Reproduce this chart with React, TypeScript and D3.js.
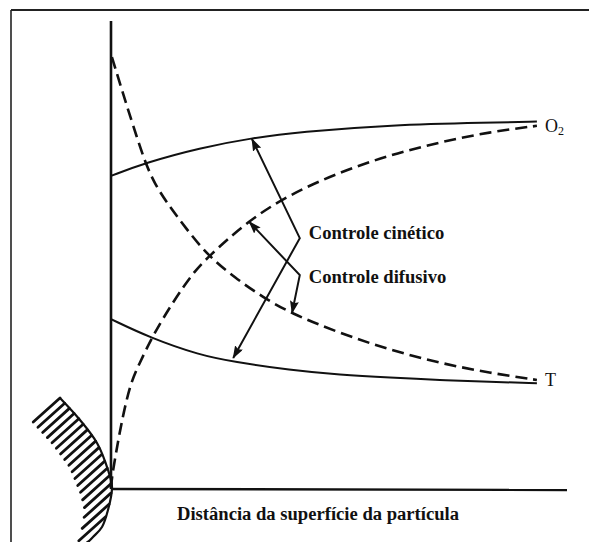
import React from 'react';
import * as d3 from 'd3';

// schematic profiles near a burning particle, in arbitrary units (0-100)
const O2_KINETIC: [number, number][] = [
  [0, 66.9], [7.5, 69.7], [19.5, 72.9], [30.9, 75.0], [41.4, 76.3],
  [61.2, 77.8], [83.1, 78.3], [93.4, 78.5],
];
const O2_DIFFUSIVE: [number, number][] = [
  [0, 0.2], [0.2, 2.6], [1.1, 7.7], [2.2, 13.7], [4.2, 22.6], [6.4, 27.1],
  [9.0, 32.5], [13.6, 40.0], [18.0, 46.2], [21.1, 49.4], [30.0, 57.3],
  [39.3, 63.0], [50.2, 67.7], [61.2, 71.4], [72.1, 74.1], [83.1, 76.3],
  [93.4, 77.6],
];
const T_KINETIC: [number, number][] = [
  [0, 36.3], [8.6, 32.3], [19.5, 28.6], [26.8, 27.2], [39.3, 25.4],
  [50.2, 24.4], [61.2, 23.8], [72.1, 23.3], [83.1, 22.9], [93.4, 22.6],
];
const T_DIFFUSIVE: [number, number][] = [
  [0.2, 92.3], [2.6, 84.6], [4.8, 77.8], [7.5, 69.7], [9.6, 65.2],
  [12.3, 61.1], [16.2, 56.0], [21.1, 50.0], [27.2, 45.1], [33.3, 41.0],
  [39.3, 37.6], [50.2, 33.3], [61.2, 29.7], [72.1, 26.9], [83.1, 24.8],
  [93.4, 23.3],
];

// bracket arrows: [tip, vertex, tip]
const KINETIC_ARROW: [number, number][] = [[30.9, 74.8], [41.4, 53.6], [26.8, 28.0]];
const DIFFUSIVE_ARROW: [number, number][] = [[30.3, 57.1], [41.4, 45.7], [39.7, 37.6]];

const LABEL_KINETIC = 'Controle cinético';
const LABEL_DIFFUSIVE = 'Controle difusivo';
const X_TITLE = 'Distância da superfície da partícula';

// particle outline (pixel sketch, decoration)
const PARTICLE: [number, number][] = [
  [60, 398], [80, 420], [97, 443], [108, 470], [112, 487],
  [108, 510], [102, 527], [93, 537], [84, 546],
];

const W = 589;
const H = 542;
const INK = '#111';
const FONT = '"Liberation Serif", "Times New Roman", serif';

const x = d3.scaleLinear().domain([0, 100]).range([111, 567]);
const y = d3.scaleLinear().domain([0, 100]).range([489, 21]);

const line = d3.line<[number, number]>()
  .x((d) => x(d[0]))
  .y((d) => y(d[1]))
  .curve(d3.curveBasis);

const arrowLine = d3.line<[number, number]>()
  .x((d) => x(d[0]))
  .y((d) => y(d[1]));

const particlePath = d3.line<[number, number]>().curve(d3.curveCatmullRom.alpha(0.5))(PARTICLE) || '';

// hatch strokes: parallel lines (y = c - k x) starting on the outline, going down-left
const hatches = (() => {
  const k = 0.9;
  const len = 36;
  const ux = -1 / Math.sqrt(1 + k * k);
  const uy = k / Math.sqrt(1 + k * k);
  const out: { x1: number; y1: number; x2: number; y2: number }[] = [];
  const c0 = PARTICLE[0][1] + k * PARTICLE[0][0];
  for (let c = c0; c < 640; c += 9.4) {
    for (let i = 0; i < PARTICLE.length - 1; i++) {
      const [ax, ay] = PARTICLE[i];
      const [bx, by] = PARTICLE[i + 1];
      const fa = ay + k * ax - c;
      const fb = by + k * bx - c;
      if ((fa <= 0 && fb >= 0) || (fa >= 0 && fb <= 0)) {
        const t = fa === fb ? 0 : fa / (fa - fb);
        const px = ax + t * (bx - ax);
        const py = ay + t * (by - ay);
        out.push({ x1: px, y1: py, x2: px + ux * len, y2: py + uy * len });
        break;
      }
    }
  }
  return out;
})();

export default function App() {
  const kMid = KINETIC_ARROW[1];
  const dMid = DIFFUSIVE_ARROW[1];
  const o2End = O2_KINETIC[O2_KINETIC.length - 1];
  const tEnd = T_KINETIC[T_KINETIC.length - 1];

  return (
    <svg
      width={W}
      height={H}
      style={{ position: 'absolute', left: 0, top: 0, background: '#fff', overflow: 'hidden' }}
    >
      <defs>
        <marker
          id="head"
          markerUnits="userSpaceOnUse"
          markerWidth={13}
          markerHeight={9}
          refX={12}
          refY={4.5}
          orient="auto-start-reverse"
        >
          <path d="M0,0 L13,4.5 L0,9 L2,4.5 Z" fill={INK} />
        </marker>
      </defs>

      {/* frame (only top and left edges fall inside the picture) */}
      <line x1={11} y1={10} x2={W} y2={10} stroke="#222" strokeWidth={2} />
      <line x1={11} y1={10} x2={11} y2={H} stroke="#222" strokeWidth={1.6} />

      {/* axes */}
      <line x1={x(0)} y1={y(100)} x2={x(0)} y2={y(0)} stroke={INK} strokeWidth={2.6} />
      <line x1={x(0)} y1={y(0)} x2={x(100)} y2={y(0) + 1} stroke={INK} strokeWidth={2.4} />

      {/* particle */}
      <path d={particlePath} fill="none" stroke={INK} strokeWidth={2.2} />
      {hatches.map((h, i) => (
        <line key={i} x1={h.x1} y1={h.y1} x2={h.x2} y2={h.y2} stroke={INK} strokeWidth={2.8} strokeLinecap="round" />
      ))}

      {/* profiles */}
      <path d={line(O2_KINETIC) || ''} fill="none" stroke={INK} strokeWidth={2} />
      <path d={line(T_KINETIC) || ''} fill="none" stroke={INK} strokeWidth={2} />
      <path d={line(O2_DIFFUSIVE) || ''} fill="none" stroke={INK} strokeWidth={2.6} strokeDasharray="12,6" />
      <path d={line(T_DIFFUSIVE) || ''} fill="none" stroke={INK} strokeWidth={2.6} strokeDasharray="12,6" />

      {/* bracket arrows */}
      <path
        d={arrowLine(KINETIC_ARROW) || ''}
        fill="none"
        stroke={INK}
        strokeWidth={2}
        markerStart="url(#head)"
        markerEnd="url(#head)"
      />
      <path
        d={arrowLine(DIFFUSIVE_ARROW) || ''}
        fill="none"
        stroke={INK}
        strokeWidth={2}
        markerStart="url(#head)"
        markerEnd="url(#head)"
      />

      <g fontFamily={FONT} fill={INK}>
        <text x={x(kMid[0]) + 9} y={y(kMid[1]) + 1} fontSize={18.6} fontWeight="bold">
          {LABEL_KINETIC}
        </text>
        <text x={x(dMid[0]) + 9} y={y(dMid[1]) + 8} fontSize={18.6} fontWeight="bold">
          {LABEL_DIFFUSIVE}
        </text>
        <text x={x(o2End[0]) + 8} y={y(o2End[1]) + 10} fontSize={18}>
          O<tspan fontSize={12} dy={3}>2</tspan>
        </text>
        <text x={x(tEnd[0]) + 8} y={y(tEnd[1]) + 3} fontSize={18}>
          T
        </text>
        <text x={318} y={520} fontSize={18.6} fontWeight="bold" textAnchor="middle">
          {X_TITLE}
        </text>
      </g>
    </svg>
  );
}
